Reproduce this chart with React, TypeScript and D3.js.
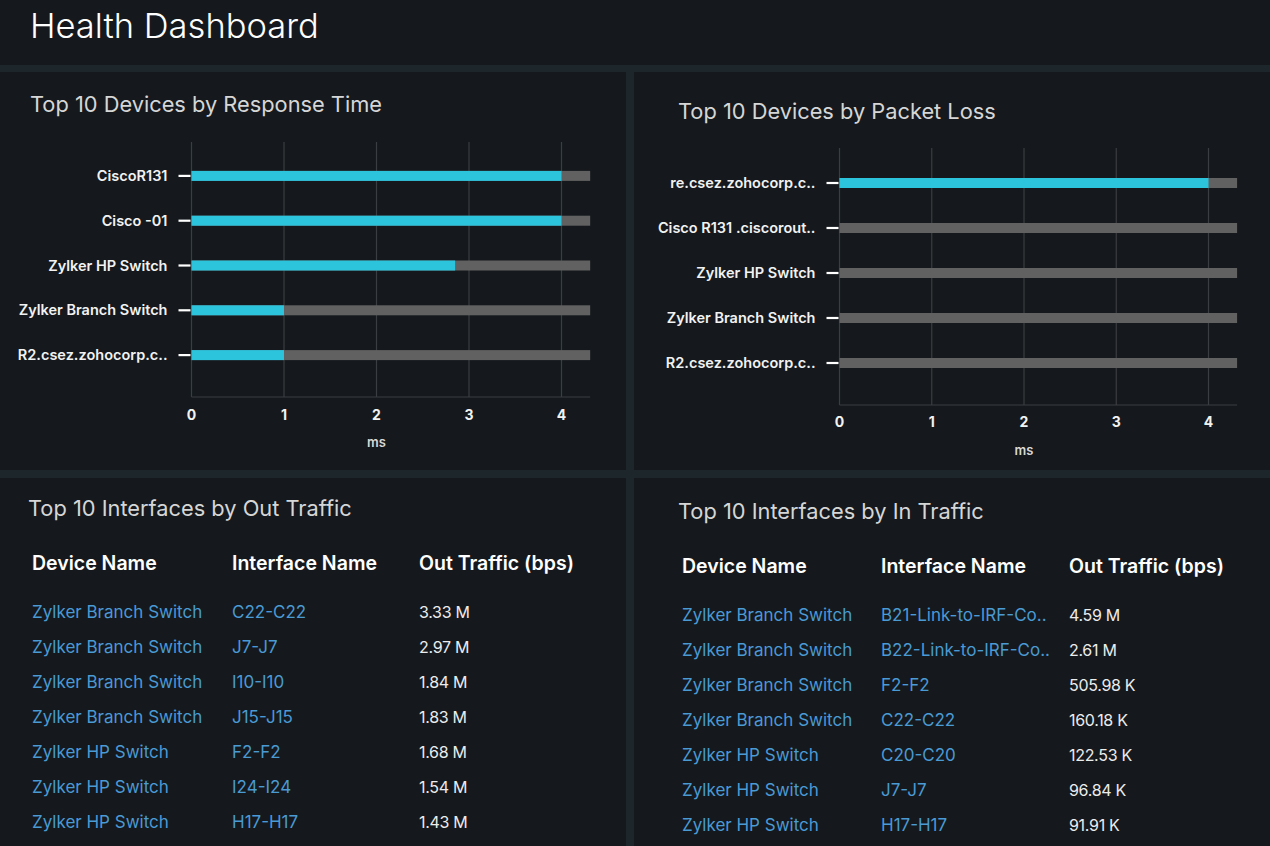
import React from 'react';
import * as d3 from 'd3';

const W = 1270;
const H = 846;

const BG = '#15191d';
const SEP = '#1d262b';
const CYAN = '#2cc3dd';
const TRACK = '#616161';
const GRID = '#3a3d41';
const LINK = '#4a9ad4';
const FONT = 'Inter, "Noto Sans", sans-serif';

// response time chart
const respDevices = ['CiscoR131', 'Cisco -01', 'Zylker HP Switch', 'Zylker Branch Switch', 'R2.csez.zohocorp.c..'];
const respValues = [4.0, 4.0, 2.85, 1.0, 1.0];

// packet loss chart
const lossDevices = ['re.csez.zohocorp.c..', 'Cisco R131 .ciscorout..', 'Zylker HP Switch', 'Zylker Branch Switch', 'R2.csez.zohocorp.c..'];
const lossValues = [4.0, 0, 0, 0, 0];

const xTicks = [0, 1, 2, 3, 4];
const xMax = 4.31;

// tables
const tableHeaders = ['Device Name', 'Interface Name', 'Out Traffic (bps)'];

const outDevices = ['Zylker Branch Switch', 'Zylker Branch Switch', 'Zylker Branch Switch', 'Zylker Branch Switch', 'Zylker HP Switch', 'Zylker HP Switch', 'Zylker HP Switch'];
const outInterfaces = ['C22-C22', 'J7-J7', 'I10-I10', 'J15-J15', 'F2-F2', 'I24-I24', 'H17-H17'];
const outTraffic = ['3.33 M', '2.97 M', '1.84 M', '1.83 M', '1.68 M', '1.54 M', '1.43 M'];

const inDevices = ['Zylker Branch Switch', 'Zylker Branch Switch', 'Zylker Branch Switch', 'Zylker Branch Switch', 'Zylker HP Switch', 'Zylker HP Switch', 'Zylker HP Switch'];
const inInterfaces = ['B21-Link-to-IRF-Co..', 'B22-Link-to-IRF-Co..', 'F2-F2', 'C22-C22', 'C20-C20', 'J7-J7', 'H17-H17'];
const inTraffic = ['4.59 M', '2.61 M', '505.98 K', '160.18 K', '122.53 K', '96.84 K', '91.91 K'];

const BarPanel = ({ devices, values, x0, x4, top, bottom, bandTop, bandBottom, tickY, labelY }: {
  devices: string[]; values: number[]; x0: number; x4: number; top: number; bottom: number;
  bandTop: number; bandBottom: number; tickY: number; labelY: number;
}) => {
  const unit = (x4 - x0) / 4;
  const x = d3.scaleLinear().domain([0, xMax]).range([x0, x0 + unit * xMax]);
  const y = d3.scaleBand<string>().domain(devices).range([bandTop, bandBottom]);
  const barH = 10;
  return (
    <g>
      {xTicks.map(t => (
        <line key={'g' + t} x1={x(t)} x2={x(t)} y1={top} y2={bottom} stroke={GRID} strokeWidth={1.2} />
      ))}
      <line x1={x(0)} x2={x(xMax)} y1={bottom} y2={bottom} stroke={GRID} strokeWidth={1.2} />
      {devices.map((d, i) => {
        const cy = (y(d) ?? 0) + y.bandwidth() / 2;
        return (
          <g key={d + i}>
            <rect x={x(0)} y={cy - barH / 2} width={x(xMax) - x(0)} height={barH} fill={TRACK} />
            <rect x={x(0)} y={cy - barH / 2} width={x(values[i]) - x(0)} height={barH} fill={CYAN} />
            <line x1={x(0) - 13} x2={x(0) - 1} y1={cy} y2={cy} stroke="#ffffff" strokeWidth={2.2} />
            <text x={x(0) - 24} y={cy} dy="0.35em" textAnchor="end" fill="#f2f2f2" fontSize={14.5} fontWeight={600} fontFamily={FONT}>{d}</text>
          </g>
        );
      })}
      {xTicks.map(t => (
        <text key={'t' + t} x={x(t)} y={tickY} dy="0.35em" textAnchor="middle" fill="#f2f2f2" fontSize={14} fontWeight={700} fontFamily={FONT}>{t}</text>
      ))}
      <text x={x(2)} y={labelY} dy="0.35em" textAnchor="middle" fill="#d8d8d8" fontSize={13} fontWeight={600} fontFamily={FONT}>ms</text>
    </g>
  );
};

const TablePanel = ({ cols, headerY, rowY0, devices, interfaces, traffic }: {
  cols: number[]; headerY: number; rowY0: number; devices: string[]; interfaces: string[]; traffic: string[];
}) => {
  const rowStep = 35;
  return (
    <g fontFamily={FONT}>
      {tableHeaders.map((h, i) => (
        <text key={h} x={cols[i]} y={headerY} dy="0.35em" fill="#ffffff" fontSize={19.5} fontWeight={600}>{h}</text>
      ))}
      {devices.map((d, i) => {
        const yy = rowY0 + i * rowStep;
        return (
          <g key={i}>
            <text x={cols[0]} y={yy} dy="0.35em" fill={LINK} fontSize={17}>{d}</text>
            <text x={cols[1]} y={yy} dy="0.35em" fill={LINK} fontSize={17}>{interfaces[i]}</text>
            <text x={cols[2]} y={yy} dy="0.35em" fill="#ececec" fontSize={16} letterSpacing={-0.3}>{traffic[i]}</text>
          </g>
        );
      })}
    </g>
  );
};

export default function App() {
  return (
    <div style={{ position: 'fixed', left: 0, top: 0, width: W, height: H, background: BG }}>
      <svg width={W} height={H} style={{ display: 'block' }}>
        <rect x={0} y={0} width={W} height={H} fill={BG} />
        {/* separators */}
        <rect x={0} y={65} width={W} height={7} fill={SEP} />
        <rect x={0} y={470} width={W} height={8} fill={SEP} />
        <rect x={626} y={65} width={8} height={H - 65} fill={SEP} />

        <text x={30} y={26} dy="0.35em" fill="#ffffff" fontSize={34.5} fontWeight={300} fontFamily={FONT}>Health Dashboard</text>

        <text x={30} y={104} dy="0.35em" fill="#d6d6d6" fontSize={21.8} fontFamily={FONT}>Top 10 Devices by Response Time</text>
        <text x={678} y={111} dy="0.35em" fill="#d6d6d6" fontSize={21.8} fontFamily={FONT}>Top 10 Devices by Packet Loss</text>
        <text x={28} y={508} dy="0.35em" fill="#d6d6d6" fontSize={21.8} fontFamily={FONT}>Top 10 Interfaces by Out Traffic</text>
        <text x={678} y={511} dy="0.35em" fill="#d6d6d6" fontSize={21.8} fontFamily={FONT}>Top 10 Interfaces by In Traffic</text>

        <BarPanel devices={respDevices} values={respValues} x0={191.5} x4={561.5} top={142} bottom={397}
          bandTop={153.5} bandBottom={377.5} tickY={415} labelY={442} />
        <BarPanel devices={lossDevices} values={lossValues} x0={839.5} x4={1208.5} top={148} bottom={405}
          bandTop={160.5} bandBottom={385.5} tickY={422} labelY={450} />

        <TablePanel cols={[32, 232, 419]} headerY={563} rowY0={612} devices={outDevices} interfaces={outInterfaces} traffic={outTraffic} />
        <TablePanel cols={[682, 881, 1069]} headerY={566} rowY0={615} devices={inDevices} interfaces={inInterfaces} traffic={inTraffic} />
      </svg>
    </div>
  );
}
